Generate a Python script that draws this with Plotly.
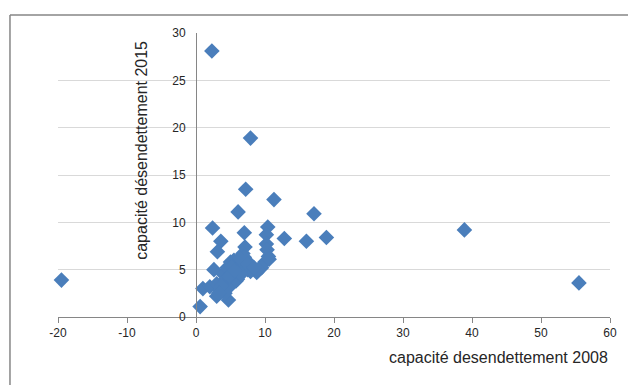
import plotly.graph_objects as go

# capacité de désendettement (années) par entité, 2008 vs 2015
cap_2008 = [
    -19.5, 2.3, 7.9, 7.2, 11.3, 6.1, 17.1, 2.4, 10.4, 7.0, 38.9, 18.9, 12.8, 16.0,
    3.6, 3.1, 10.2, 10.2, 10.3, 10.5, 7.1, 6.8, 55.5,
    0.6, 1.0, 2.0, 3.0, 3.5, 4.7, 4.2, 5.0, 4.0, 3.0, 2.6, 4.0, 4.5, 5.0, 5.5, 6.0,
    5.5, 6.0, 6.5, 7.0, 7.5, 8.0, 8.8, 9.5, 10.0, 10.6, 6.3, 5.2, 4.3, 3.7, 5.8,
    7.9, 9.0, 6.5, 3.3, 4.8, 5.6, 7.4, 8.4,
]
cap_2015 = [
    3.9, 28.1, 18.9, 13.5, 12.4, 11.1, 10.9, 9.4, 9.5, 8.9, 9.2, 8.4, 8.3, 8.0,
    8.0, 6.9, 8.7, 7.7, 7.1, 6.4, 7.4, 6.7, 3.6,
    1.1, 3.0, 3.2, 2.2, 2.8, 1.8, 2.5, 3.3, 3.6, 3.5, 5.0, 4.5, 5.2, 5.8, 6.0, 5.0,
    4.4, 4.0, 5.5, 6.3, 5.0, 5.5, 4.7, 5.2, 5.8, 6.1, 6.2, 5.3, 4.0, 3.3, 3.8,
    4.8, 5.0, 4.5, 2.5, 4.3, 4.9, 5.6, 5.2,
]

x_ticks = [-20, -10, 0, 10, 20, 30, 40, 50, 60]
x_tick_labels = ["-20", "-10", "0", "10", "20", "30", "40", "50", "60"]
y_ticks = [0, 5, 10, 15, 20, 25, 30]

FONT = "Liberation Sans"
AXIS_GREY = "#868686"
GRID_GREY = "#d9d9d9"
TEXT = "#262626"

fig = go.Figure(
    go.Scatter(
        x=cap_2008,
        y=cap_2015,
        mode="markers",
        marker=dict(symbol="diamond", size=12, color="#4a7ebb", line=dict(width=0)),
        cliponaxis=False,
        showlegend=False,
    )
)

# y axis crosses the x axis at x = 0
x_min, x_max = x_ticks[0], x_ticks[-1]
y_axis_pos = (0 - x_min) / (x_max - x_min)

fig.update_layout(
    width=628,
    height=385,
    margin=dict(l=58, r=18, t=33, b=68),
    paper_bgcolor="white",
    plot_bgcolor="white",
    font=dict(family=FONT, size=12, color=TEXT),
    xaxis=dict(
        range=[x_min, x_max],
        tickvals=x_ticks,
        ticktext=x_tick_labels,
        showgrid=False,
        zeroline=False,
        showline=True,
        linecolor=AXIS_GREY,
        linewidth=1,
        ticks="outside",
        ticklen=5,
        tickcolor=AXIS_GREY,
        tickfont=dict(family=FONT, size=12, color=TEXT),
    ),
    yaxis=dict(
        range=[y_ticks[0], y_ticks[-1]],
        tickvals=y_ticks,
        anchor="free",
        position=y_axis_pos,
        showgrid=True,
        gridcolor=GRID_GREY,
        gridwidth=1,
        zeroline=False,
        showline=True,
        linecolor=AXIS_GREY,
        linewidth=1,
        ticks="",
        ticklabelstandoff=8,
        tickfont=dict(family=FONT, size=12, color=TEXT),
    ),
    annotations=[
        dict(
            text="capacité desendettement 2008",
            xref="paper", yref="paper",
            x=1.0, y=-0.141,
            xanchor="right", yanchor="middle",
            showarrow=False,
            font=dict(family=FONT, size=16, color=TEXT),
        ),
        dict(
            text="capacité désendettement 2015",
            xref="paper", yref="paper",
            x=0.150, y=0.588,
            xanchor="center", yanchor="middle",
            textangle=-90,
            showarrow=False,
            font=dict(family=FONT, size=16, color=TEXT),
        ),
    ],
    shapes=[
        # chart frame (left and top edges)
        dict(type="line", xref="paper", yref="paper",
             x0=-0.087, x1=-0.087, y0=-0.3, y1=1.063,
             line=dict(color=AXIS_GREY, width=1.5)),
        dict(type="line", xref="paper", yref="paper",
             x0=-0.087, x1=1.1, y0=1.063, y1=1.063,
             line=dict(color=AXIS_GREY, width=1.5)),
    ],
)

fig.write_html("out.html")
